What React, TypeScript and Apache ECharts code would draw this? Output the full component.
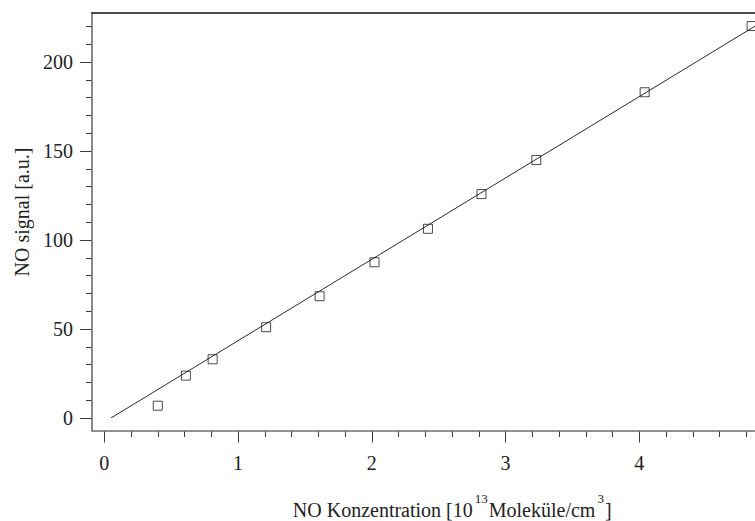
import React, { useEffect, useRef } from "react";
import * as echarts from "echarts";

// Data
const concentration = [0.4, 0.61, 0.81, 1.21, 1.61, 2.02, 2.42, 2.82, 3.23, 4.04, 4.84];
const signal = [6.9, 23.8, 33.0, 51.0, 68.4, 87.5, 106.3, 125.8, 144.9, 183.0, 220.2];
const fitX = [0.05, 5.0];
const fitY = [0, 226.3];
const xTickStep = 1;
const yTickStep = 50;

const W = 755;
const H = 521;
const FONT = "'Liberation Serif', 'Times New Roman', serif";

export default function App() {
  const ref = useRef<HTMLDivElement>(null);
  useEffect(() => {
    if (!ref.current) return;
    const chart = echarts.init(ref.current, undefined, { renderer: "svg" });
    const gridLeft = 104.3;
    const gridBottomY = 418;
    const axisX = 92;
    const axisY = 431;
    const frameTop = 13;
    const axisColor = "#6e6e6e";
    const tickColor = "#3a3a3a";
    chart.setOption({
      animation: false,
      backgroundColor: "#ffffff",
      textStyle: { fontFamily: FONT },
      grid: {
        left: gridLeft,
        right: -18.05,
        top: -27,
        bottom: H - gridBottomY,
        containLabel: false,
        outerBoundsMode: "none",
      },
      xAxis: {
        type: "value",
        min: 0,
        max: 5,
        interval: xTickStep,
        offset: axisY - gridBottomY,
        axisLine: { show: false, onZero: false },
        axisTick: { show: true, length: 11.5, lineStyle: { color: tickColor, width: 1 } },
        minorTick: { show: true, splitNumber: 5, length: 6, lineStyle: { color: tickColor, width: 1 } },
        splitLine: { show: false },
        axisLabel: { margin: 22, fontSize: 20, color: "#222", fontFamily: FONT, showMaxLabel: false },
        name: "{n|NO Konzentration [10}{s|13}{n|Moleküle/cm}{s|3}{n|]}",
        nameLocation: "middle",
        nameGap: 61,
        nameTextStyle: {
          padding: [0, 0, 0, 27],
          rich: {
            n: { fontSize: 20, lineHeight: 36, color: "#222", fontFamily: FONT },
            s: { fontSize: 13, verticalAlign: "top", color: "#222", fontFamily: FONT, padding: [0, 1, 0, 2] },
          },
        },
      },
      yAxis: {
        type: "value",
        min: 0,
        max: 250,
        interval: yTickStep,
        offset: gridLeft - axisX,
        axisLine: { show: false, onZero: false },
        axisTick: { show: true, length: 12, lineStyle: { color: tickColor, width: 1 } },
        minorTick: { show: true, splitNumber: 5, length: 6, lineStyle: { color: tickColor, width: 1 } },
        splitLine: { show: false },
        axisLabel: { margin: 19, fontSize: 20, color: "#222", fontFamily: FONT, showMaxLabel: false },
        name: "NO signal [a.u.]",
        nameLocation: "middle",
        nameGap: 57,
        nameTextStyle: { fontSize: 20, color: "#222", fontFamily: FONT, padding: [0, 33, 0, 0] },
      },
      series: [
        {
          type: "line",
          data: fitX.map((x, i) => [x, fitY[i]]),
          showSymbol: false,
          symbol: "none",
          lineStyle: { color: "#2a2a2a", width: 1 },
          z: 2,
        },
        {
          type: "scatter",
          data: concentration.map((x, i) => [x, signal[i]]),
          symbol: "rect",
          symbolSize: 9,
          itemStyle: { color: "rgba(0,0,0,0)", borderColor: "#1e1e1e", borderWidth: 1 },
          z: 3,
        },
      ],
      graphic: [
        {
          type: "rect",
          z: 50,
          shape: { x: 0, y: 0, width: W, height: frameTop - 0.5 },
          style: { fill: "#ffffff" },
        },
        {
          type: "polyline",
          z: 60,
          shape: { points: [[axisX, frameTop], [axisX, axisY], [W + 5, axisY]] },
          style: { stroke: axisColor, lineWidth: 1.6, fill: null },
        },
        {
          type: "line",
          z: 61,
          shape: { x1: axisX - 0.8, y1: frameTop, x2: W + 5, y2: frameTop },
          style: { stroke: "#111111", lineWidth: 1.3 },
        },
      ],
    });
    return () => chart.dispose();
  }, []);
  return (
    <div
      style={{ position: "fixed", left: 0, top: 0, width: W, height: H, overflow: "hidden", background: "#fff" }}
    >
      <div ref={ref} style={{ width: W, height: H }} />
    </div>
  );
}
